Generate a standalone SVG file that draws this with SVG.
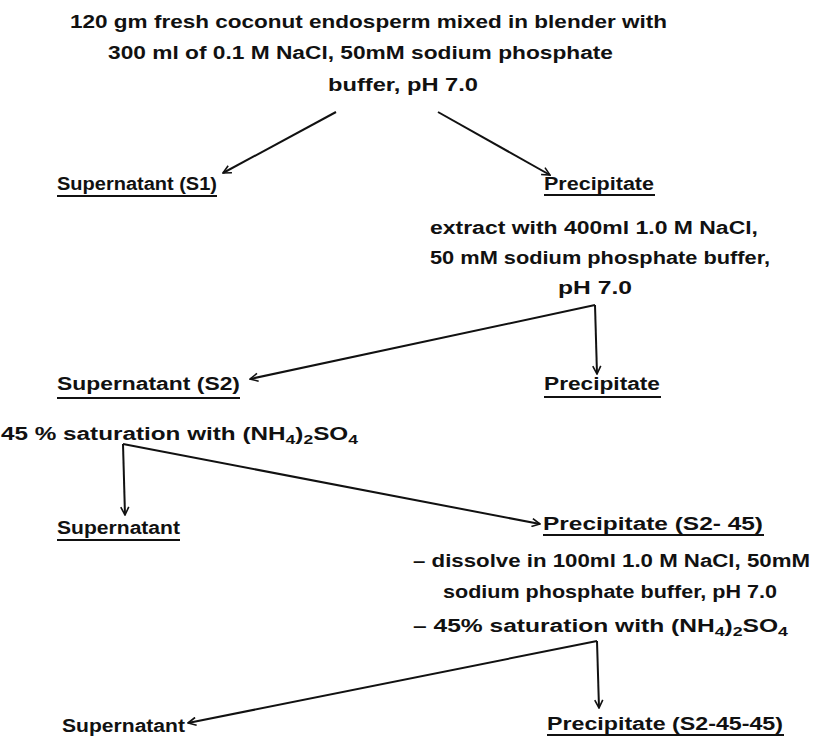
<svg xmlns="http://www.w3.org/2000/svg" width="817" height="738" viewBox="0 0 817 738">
<style>
text{font-family:"Liberation Sans",Arial,sans-serif;font-size:18px;font-weight:bold;fill:#111}
.u{stroke:#111;stroke-width:2}
.c{stroke:#111;stroke-width:2;fill:none;marker-end:url(#ah)}
.sub{font-size:13px}
</style>
<defs>
<marker id="ah" viewBox="0 0 10 10" refX="9" refY="5" markerWidth="10" markerHeight="10" markerUnits="userSpaceOnUse" orient="auto">
<path d="M1,1 L9,5 L1,9" fill="none" stroke="#111" stroke-width="1.6"/>
</marker>
</defs>
<rect width="817" height="738" fill="#fff"/>
<g id="start">
<text x="70" y="28" textLength="597" lengthAdjust="spacingAndGlyphs">120 gm fresh coconut endosperm mixed in blender with</text>
<text x="108" y="59" textLength="505" lengthAdjust="spacingAndGlyphs">300 ml of 0.1 M NaCl, 50mM sodium phosphate</text>
<text x="328" y="91" textLength="150" lengthAdjust="spacingAndGlyphs">buffer, pH 7.0</text>
</g>
<g id="sup1">
<text x="57" y="190" textLength="160" lengthAdjust="spacingAndGlyphs">Supernatant (S1)</text>
<line class="u" x1="57" y1="196" x2="217" y2="196"/>
</g>
<g id="prec1">
<text x="544" y="190" textLength="110" lengthAdjust="spacingAndGlyphs">Precipitate</text>
<line class="u" x1="544" y1="195" x2="655" y2="195"/>
<text x="430" y="234" textLength="328" lengthAdjust="spacingAndGlyphs">extract with 400ml 1.0 M NaCl,</text>
<text x="430" y="264" textLength="340" lengthAdjust="spacingAndGlyphs">50 mM sodium phosphate buffer,</text>
<text x="558" y="294" textLength="74" lengthAdjust="spacingAndGlyphs">pH 7.0</text>
</g>
<g id="sup2">
<text x="57" y="390" textLength="183" lengthAdjust="spacingAndGlyphs">Supernatant (S2)</text>
<line class="u" x1="57" y1="398" x2="240" y2="398"/>
<text x="1" y="440" textLength="357" lengthAdjust="spacingAndGlyphs">45 % saturation with (NH<tspan class="sub" dy="4">4</tspan><tspan dy="-4">)</tspan><tspan class="sub" dy="4">2</tspan><tspan dy="-4">SO</tspan><tspan class="sub" dy="4">4</tspan></text>
</g>
<g id="prec2">
<text x="544" y="390" textLength="116" lengthAdjust="spacingAndGlyphs">Precipitate</text>
<line class="u" x1="544" y1="397" x2="661" y2="397"/>
</g>
<g id="sup3">
<text x="57" y="534" textLength="123" lengthAdjust="spacingAndGlyphs">Supernatant</text>
<line class="u" x1="57" y1="540" x2="180" y2="540"/>
</g>
<g id="prec3">
<text x="543" y="530" textLength="220" lengthAdjust="spacingAndGlyphs">Precipitate (S2- 45)</text>
<line class="u" x1="543" y1="535" x2="764" y2="535"/>
<text x="413" y="567" textLength="397" lengthAdjust="spacingAndGlyphs">– dissolve in 100ml 1.0 M NaCl, 50mM</text>
<text x="443" y="598" textLength="334" lengthAdjust="spacingAndGlyphs">sodium phosphate buffer, pH 7.0</text>
<text x="413" y="632" textLength="375" lengthAdjust="spacingAndGlyphs">–  45% saturation with (NH<tspan class="sub" dy="4">4</tspan><tspan dy="-4">)</tspan><tspan class="sub" dy="4">2</tspan><tspan dy="-4">SO</tspan><tspan class="sub" dy="4">4</tspan></text>
</g>
<g id="sup4">
<text x="62" y="732" textLength="123" lengthAdjust="spacingAndGlyphs">Supernatant</text>
</g>
<g id="prec4">
<text x="547" y="730" textLength="236" lengthAdjust="spacingAndGlyphs">Precipitate (S2-45-45)</text>
<line class="u" x1="547" y1="735" x2="784" y2="735"/>
</g>
<g id="connectors">
<path class="c" d="M336,112 L223,173"/>
<path class="c" d="M438,112 L550,175"/>
<path class="c" d="M595,305 L597,374"/>
<path class="c" d="M595,305 L250,379"/>
<path class="c" d="M123,444 L125,515"/>
<path class="c" d="M123,444 L540,524"/>
<path class="c" d="M597,641 L599,708"/>
<path class="c" d="M597,641 L188,723"/>
</g>
</svg>
